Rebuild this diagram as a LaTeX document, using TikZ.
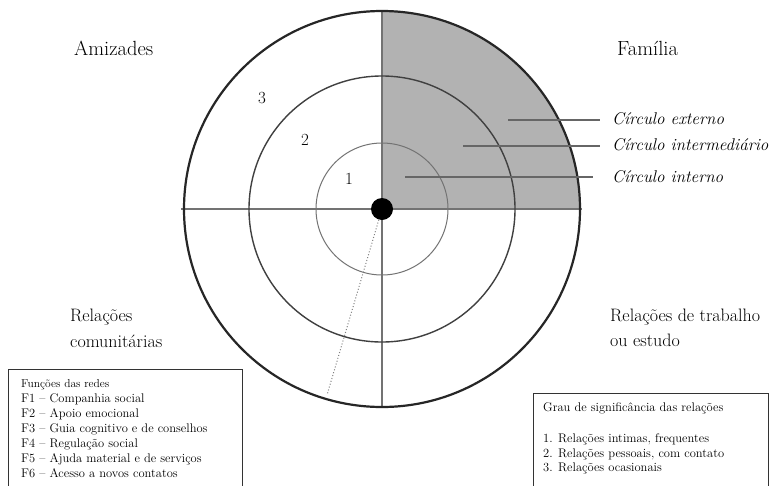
\documentclass[tikz,border=0pt]{standalone}
\begin{document}
\begin{tikzpicture}[x=1pt,y=-1pt,
  big/.style={inner sep=0pt,anchor=base west,font=\fontsize{20.5}{22}\selectfont},
  lbl/.style={inner sep=0pt,anchor=base west,font=\fontsize{18}{20}\selectfont},
  circlbl/.style={inner sep=0pt,anchor=base west,font=\fontsize{17}{19}\selectfont\itshape},
  num/.style={inner sep=0pt,font=\fontsize{17}{19}\selectfont},
  boxtxt/.style={inner sep=0pt,anchor=base west,font=\fontsize{12.5}{14}\selectfont},
  leader/.style={draw=black!60,line width=1.1pt},
  axis/.style={draw=black!55,line width=1.3pt},
  legend/.style={draw=black!80,line width=1pt}]
\clip (0,0) rectangle (776,485);
\fill[white] (0,0) rectangle (776,485);
\coordinate (c) at (382,209);
% shaded quadrant
\fill[black!30] (c) -- (382,11) arc[start angle=90,end angle=0,radius=198pt] -- cycle;
% axes
\coordinate (hl) at (181,209);
\coordinate (hr) at (582,209);
\coordinate (vt) at (382,11);
\coordinate (vb) at (382,407);
\draw[axis] (hl) -- (hr);
\draw[axis] (vt) -- (vb);
% circles
\draw[black!85,line width=2.2pt] (c) circle[radius=198pt];
\draw[black!75,line width=1.4pt] (c) circle[radius=133pt];
\draw[black!55,line width=1pt] (c) circle[radius=66pt];
% centre dot and dotted line
\node[circle,fill=black,minimum size=22pt,inner sep=0pt] (dot) at (c) {};
\coordinate (dend) at (327,395);
\draw[dotted,black!50,line width=1pt] (dot) -- (dend);
% numbers
\node[num] (n3) at (262,98) {3};
\node[num] (n2) at (305,140) {2};
\node[num] (n1) at (349,179) {1};
% quadrant labels
\node[big] (amiz) at (74,55) {Amizades};
\node[big] (fam) at (617,55) {Família};
\node[lbl] (rc1) at (70,321) {Relações};
\node[lbl] (rc2) at (70,347) {comunitárias};
\node[lbl] (rt1) at (610,321) {Relações de trabalho};
\node[lbl] (rt2) at (610,346) {ou estudo};
% circle labels and leaders
\node[circlbl] (cext) at (612,124) {Círculo externo};
\node[circlbl] (cint) at (612,150) {Círculo intermediário};
\node[circlbl] (cinn) at (612,182) {Círculo interno};
\coordinate (e1) at (508,120);
\coordinate (e2) at (600,120);
\coordinate (m1) at (463,146);
\coordinate (m2) at (600,146);
\coordinate (i1) at (405,177);
\coordinate (i2) at (593,177);
\draw[leader] (e1) -- (e2);
\draw[leader] (m1) -- (m2);
\draw[leader] (i1) -- (i2);
% left legend box
\draw[legend] (8,369) rectangle (242,500);
\node[boxtxt,font=\fontsize{11.5}{13}\selectfont] (f0) at (21,387) {Funções das redes};
\node[boxtxt] (f1) at (21,402) {F1 – Companhia social};
\node[boxtxt] (f2) at (21,417) {F2 – Apoio emocional};
\node[boxtxt] (f3) at (21,432) {F3 – Guia cognitivo e de conselhos};
\node[boxtxt] (f4) at (21,447) {F4 – Regulação social};
\node[boxtxt] (f5) at (21,462) {F5 – Ajuda material e de serviços};
\node[boxtxt] (f6) at (21,477) {F6 – Acesso a novos contatos};
% right legend box
\draw[legend] (533,393) rectangle (768,500);
\node[boxtxt] (g0) at (543,411) {Grau de significância das relações};
\node[boxtxt] (g1) at (543,442) {1. Relações intimas, frequentes};
\node[boxtxt] (g2) at (543,457) {2. Relações pessoais, com contato};
\node[boxtxt] (g3) at (543,471) {3. Relações ocasionais};
\end{tikzpicture}
\end{document}
